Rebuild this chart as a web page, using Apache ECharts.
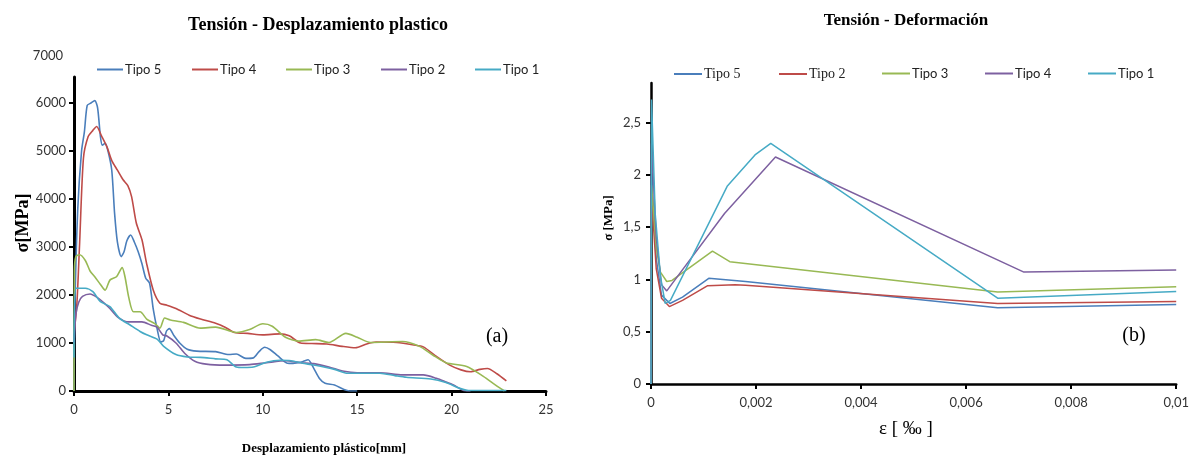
<!DOCTYPE html>
<html>
<head>
<meta charset="utf-8">
<script src="https://cdn.jsdelivr.net/npm/echarts@6/dist/echarts.min.js"></script>
<style>html,body{margin:0;padding:0;background:#fff}#c{width:1192px;height:455px}</style>
</head>
<body>
<div id="c"></div>
<script>
// ---------- Data: left chart (Tensión - Desplazamiento plastico) [x mm, σ MPa]
const leftNames = ['Tipo 5', 'Tipo 4', 'Tipo 3', 'Tipo 2', 'Tipo 1'];
const leftTipo5 = [[0,0],[0.05,1800],[0.2,3800],[0.4,5000],[0.55,5400],[0.7,5950],[0.9,6000],[1.1,6050],[1.25,5900],[1.4,5300],[1.5,5120],[1.65,5160],[1.8,5000],[2.0,4600],[2.15,3700],[2.3,3100],[2.5,2800],[2.65,2900],[2.8,3130],[3.0,3250],[3.2,3100],[3.4,2900],[3.6,2650],[3.8,2350],[4.0,2250],[4.2,1700],[4.4,1300],[4.6,1020],[4.75,1050],[4.9,1250],[5.05,1300],[5.3,1150],[5.6,1000],[6.0,870],[6.5,830],[7.5,820],[8.2,760],[8.6,770],[9.1,680],[9.5,690],[9.8,820],[10.1,910],[10.4,860],[10.8,730],[11.3,580],[11.6,575],[12.1,610],[12.4,650],[12.7,470],[13.0,260],[13.3,160],[13.8,125],[14.3,30],[14.6,0],[15.0,0]];
const leftTipo4 = [[0,1200],[0.15,1800],[0.3,3100],[0.5,4850],[0.75,5300],[1.0,5430],[1.2,5510],[1.45,5320],[1.75,5080],[2.0,4800],[2.3,4600],[2.6,4400],[2.85,4280],[3.05,4050],[3.3,3500],[3.6,3150],[3.85,2650],[4.2,2100],[4.55,1830],[4.9,1790],[5.4,1720],[6.1,1580],[6.7,1500],[7.5,1410],[8.0,1330],[8.5,1220],[9.2,1200],[10.0,1170],[10.9,1190],[11.4,1150],[12.0,1000],[12.6,990],[13.4,980],[14.2,930],[14.9,900],[15.5,980],[16.0,1020],[17.1,1010],[18.0,960],[18.5,920],[19.2,720],[19.9,540],[20.5,440],[21.0,400],[21.5,450],[21.9,470],[22.4,360],[22.9,210]];
const leftTipo3 = [[0,0],[0.02,2500],[0.1,2800],[0.3,2840],[0.6,2720],[0.85,2500],[1.1,2380],[1.4,2220],[1.65,2100],[1.9,2310],[2.25,2380],[2.55,2570],[2.7,2380],[2.9,1950],[3.15,1650],[3.5,1650],[3.85,1500],[4.3,1400],[4.55,1310],[4.8,1520],[5.1,1480],[5.8,1430],[6.7,1310],[7.5,1330],[8.6,1220],[9.3,1280],[10.0,1400],[10.5,1350],[11.2,1120],[11.9,1040],[12.8,1070],[13.5,1010],[14.4,1200],[15.0,1120],[15.7,1010],[17.4,1030],[18.3,930],[19.0,750],[19.7,590],[20.8,510],[21.7,300],[22.2,160],[22.8,0]];
const leftTipo2 = [[0,1000],[0.1,1600],[0.25,1850],[0.45,1970],[0.85,2020],[1.3,1930],[1.6,1830],[1.9,1720],[2.35,1530],[2.9,1440],[3.6,1440],[4.1,1370],[4.4,1330],[4.7,1170],[4.9,1150],[5.4,1000],[5.9,770],[6.4,620],[7.0,560],[8.0,540],[9.3,550],[10.2,590],[11.2,630],[12.0,590],[12.7,570],[13.5,500],[14.3,410],[15.0,380],[16.2,380],[17.4,335],[18.5,335],[19.2,265],[19.7,190],[20.1,125],[20.7,5],[21.0,0]];
const leftTipo1 = [[0,700],[0.1,2140],[0.6,2140],[1.0,2070],[1.4,1860],[1.9,1760],[2.4,1520],[2.95,1380],[3.5,1240],[3.85,1170],[4.4,1080],[4.75,930],[5.4,760],[6.0,710],[6.7,700],[7.5,670],[8.1,650],[8.6,500],[9.0,490],[9.5,500],[10.2,600],[10.9,640],[11.5,630],[12.1,580],[12.7,540],[13.8,450],[14.5,370],[15.7,370],[16.2,370],[17.0,320],[17.6,285],[18.9,250],[19.7,175],[20.4,60],[20.9,10],[22.9,10]];
const leftYTop = '7000';

// ---------- Data: right chart (Tensión - Deformación) [ε, σ MPa]
const rightNames = ['Tipo 5', 'Tipo 2', 'Tipo 3', 'Tipo 4', 'Tipo 1'];
const rightTipo5 = [[0,0],[0.00001,2.0],[0.0001,1.2],[0.0002,0.85],[0.00036,0.77],[0.0006,0.83],[0.0011,1.01],[0.0018,0.98],[0.0066,0.73],[0.01,0.76]];
const rightTipo2 = [[0,0],[0.00001,1.8],[0.0001,1.1],[0.0002,0.82],[0.00035,0.74],[0.0006,0.8],[0.00108,0.94],[0.0016,0.95],[0.0018,0.945],[0.0066,0.77],[0.01,0.79]];
const rightTipo3 = [[0,0],[0.00001,1.9],[0.0001,1.3],[0.00018,1.07],[0.0003,0.98],[0.0004,0.99],[0.00117,1.27],[0.0015,1.17],[0.0066,0.88],[0.01,0.93]];
const rightTipo4 = [[0,0],[0.00001,2.3],[0.0001,1.4],[0.0002,0.95],[0.0003,0.89],[0.0014,1.63],[0.00237,2.17],[0.0071,1.07],[0.01,1.09]];
const rightTipo1 = [[0,0],[0.00001,2.72],[0.00008,1.63],[0.00018,1.03],[0.00027,0.77],[0.00037,0.8],[0.00145,1.89],[0.00198,2.19],[0.00228,2.30],[0.0066,0.82],[0.01,0.885]];

// ---------- Style
const colors = {blue:'#4A7EBB', red:'#BE4B48', green:'#98B954', purple:'#7D60A0', cyan:'#46AAC5'};
const leftColors = [colors.blue, colors.red, colors.green, colors.purple, colors.cyan];
const rightColors = [colors.blue, colors.red, colors.green, colors.purple, colors.cyan];
const leftData = [leftTipo5, leftTipo4, leftTipo3, leftTipo2, leftTipo1];
const rightData = [rightTipo5, rightTipo2, rightTipo3, rightTipo4, rightTipo1];

const sans = 'Lato, "Open Sans", sans-serif';
const serif = '"Liberation Serif", "DejaVu Serif", serif';
const comma = v => String(+(+v).toFixed(4)).replace('.', ',');
const plain = v => String(v);

const series = [];
leftData.forEach((d, i) => series.push({
  name: leftNames[i], type: 'line', xAxisIndex: 0, yAxisIndex: 0, data: d,
  showSymbol: false, smooth: 0.25, lineStyle: {width: 1.6, color: leftColors[i]},
  itemStyle: {color: leftColors[i]}
}));
rightData.forEach((d, i) => series.push({
  name: 'R' + rightNames[i], type: 'line', xAxisIndex: 1, yAxisIndex: 1, data: d,
  showSymbol: false, lineStyle: {width: 1.5, color: rightColors[i]},
  itemStyle: {color: rightColors[i]}
}));

const leftLegendX = [92, 187, 281, 376, 470];
const rightLegendX = [669, 774, 877, 980, 1083];
const legends = [];
leftNames.forEach((n, i) => legends.push({
  data: [{name: n, icon: 'rect'}], left: leftLegendX[i], top: 58,
  itemWidth: 26, itemHeight: 2, itemGap: 0,
  textStyle: {fontFamily: sans, fontSize: 13, color: '#222', padding: [0,0,0,-3]}
}));
rightNames.forEach((n, i) => legends.push({
  data: [{name: 'R' + n, icon: 'rect'}], left: rightLegendX[i], top: 62,
  itemWidth: 28, itemHeight: 2, itemGap: 0,
  formatter: name => name.slice(1),
  textStyle: {fontFamily: (i < 2 ? serif : sans), fontSize: (i < 2 ? 14 : 13), color: '#222', padding: [0,0,0,-3]}
}));

const axisLineL = {show: true, lineStyle: {color: '#000', width: 3}};
const axisLineR = {show: true, lineStyle: {color: '#000', width: 2.5}};
const tick = {show: true, inside: false, length: 5, lineStyle: {color: '#000', width: 2}};

const option = {
  animation: false,
  backgroundColor: '#fff',
  legend: legends,
  grid: [
    {left: 74, top: 77, width: 472, height: 314},
    {left: 651, top: 83, width: 527, height: 301}
  ],
  xAxis: [
    {type: 'value', gridIndex: 0, min: 0, max: 25, interval: 5, axisLine: axisLineL, axisTick: tick,
     splitLine: {show: false}, axisLabel: {margin: 12, fontFamily: sans, fontSize: 13, color: '#333', formatter: plain}},
    {type: 'value', gridIndex: 1, min: 0, max: 0.01, interval: 0.002, axisLine: axisLineR, axisTick: tick,
     splitLine: {show: false}, axisLabel: {margin: 12, fontFamily: sans, fontSize: 13, color: '#333', formatter: comma}}
  ],
  yAxis: [
    {type: 'value', gridIndex: 0, min: 0, max: 6542, interval: 1000, axisLine: axisLineL, axisTick: tick,
     splitLine: {show: false}, axisLabel: {margin: 8, showMaxLabel: false, fontFamily: sans, fontSize: 13, color: '#333', formatter: plain}},
    {type: 'value', gridIndex: 1, min: 0, max: 2.878, interval: 0.5, axisLine: axisLineR, axisTick: tick,
     splitLine: {show: false}, axisLabel: {margin: 10, showMaxLabel: false, fontFamily: sans, fontSize: 13, color: '#333', formatter: comma}}
  ],
  graphic: [
    {type: 'text', x: 318, y: 25, style: {text: 'Tensión - Desplazamiento plastico', font: 'bold 18px ' + serif, fill: '#000', textAlign: 'center', textVerticalAlign: 'middle'}},
    {type: 'text', x: 906, y: 21, style: {text: 'Tensión - Deformación', font: 'bold 17px ' + serif, fill: '#000', textAlign: 'center', textVerticalAlign: 'middle'}},
    {type: 'text', x: 63, y: 56, style: {text: leftYTop, font: '13px ' + sans, fill: '#333', textAlign: 'right', textVerticalAlign: 'middle'}},
    {type: 'text', x: 23, y: 223, rotation: Math.PI / 2, style: {text: 'σ[MPa]', font: 'bold 18px ' + serif, fill: '#000', textAlign: 'center', textVerticalAlign: 'middle'}},
    {type: 'text', x: 324, y: 449, style: {text: 'Desplazamiento plástico[mm]', font: 'bold 13px ' + serif, fill: '#000', textAlign: 'center', textVerticalAlign: 'middle'}},
    {type: 'text', x: 497, y: 337, style: {text: '(a)', font: '20px ' + serif, fill: '#000', textAlign: 'center', textVerticalAlign: 'middle'}},
    {type: 'text', x: 609, y: 218, rotation: Math.PI / 2, style: {text: 'σ [MPa]', font: 'bold 13px ' + serif, fill: '#000', textAlign: 'center', textVerticalAlign: 'middle'}},
    {type: 'text', x: 906, y: 429, style: {text: 'ε [ ‰ ]', font: '19px ' + serif, fill: '#000', textAlign: 'center', textVerticalAlign: 'middle'}},
    {type: 'text', x: 1134, y: 336, style: {text: '(b)', font: '20px ' + serif, fill: '#000', textAlign: 'center', textVerticalAlign: 'middle'}}
  ],
  series: series
};
const chart = echarts.init(document.getElementById('c'), null, {renderer: 'canvas'});
chart.setOption(option);
</script>
</body>
</html>
